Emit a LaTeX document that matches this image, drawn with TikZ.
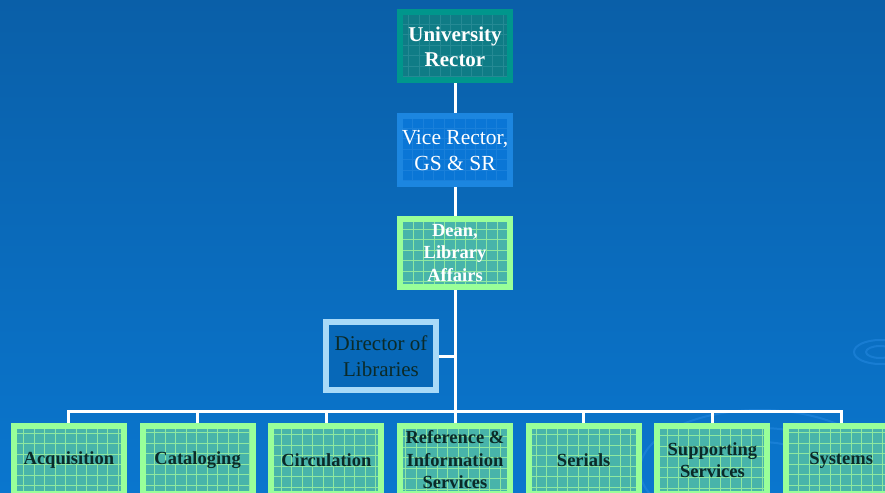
\documentclass[tikz,border=0pt]{standalone}
\usepackage{fontspec}
\setmainfont{Liberation Serif}
\usepackage{tikz}
\usetikzlibrary{positioning}
\definecolor{bgtop}{HTML}{0A5FA8}
\definecolor{bgbot}{HTML}{0A76CE}
\definecolor{ripplecol}{HTML}{2A8EE6}
\definecolor{tealedge}{HTML}{00968C}
\definecolor{tealfill}{HTML}{0F7C86}
\definecolor{tealgrid}{HTML}{258A94}
\definecolor{blueedge}{HTML}{1C86E0}
\definecolor{bluefill}{HTML}{0A76D6}
\definecolor{bluegrid}{HTML}{1A80DA}
\definecolor{greenedge}{HTML}{99FF99}
\definecolor{greenfill}{HTML}{48B4AA}
\definecolor{greengrid}{HTML}{8EE8A0}
\definecolor{skyedge}{HTML}{A8DAF8}
\definecolor{skyfill}{HTML}{0768B8}
\definecolor{darktext}{HTML}{0B2A28}
\pgfdeclarelayer{back}
\pgfdeclarelayer{links}
\pgfsetlayers{back,links,main}
\tikzstyle{unit}=[rectangle,minimum width=110pt,minimum height=68pt,line width=6pt,align=center,inner sep=0pt]
\tikzstyle{rector box}=[unit,draw=tealedge,fill=tealfill,text=white,font=\fontsize{21}{25}\selectfont\bfseries,
  path picture={\draw[tealgrid,line width=0.6pt,step=10.5pt] (path picture bounding box.south west) grid (path picture bounding box.north east);}]
\tikzstyle{vice box}=[unit,draw=blueedge,fill=bluefill,text=white,font=\fontsize{21.5}{26}\selectfont,
  path picture={\draw[bluegrid,line width=0.5pt,step=10.5pt] (path picture bounding box.south west) grid (path picture bounding box.north east);}]
\tikzstyle{green box}=[unit,draw=greenedge,fill=greenfill,font=\fontsize{18.5}{22.5}\selectfont\bfseries,
  path picture={\draw[greengrid,line width=0.8pt,step=10.5pt] (path picture bounding box.south west) grid (path picture bounding box.north east);}]
\tikzstyle{director box}=[unit,draw=skyedge,fill=skyfill,text=darktext,font=\fontsize{21}{26}\selectfont]
\tikzstyle{link}=[draw,white,line width=3pt]
\tikzstyle{ripple}=[ripplecol,line width=2pt,opacity=0.45]

\begin{document}
\begin{tikzpicture}[x=1pt,y=-1pt]
    \useasboundingbox (0,0) rectangle (885,492);
    \begin{pgfonlayer}{back}
    \shade[top color=bgtop,bottom color=bgbot] (0,0) rectangle (885,492);
    % ripples
    \draw[ripple] (880,352) ellipse (26 and 12);
    \draw[ripple] (880,352) ellipse (14 and 6);
    \draw[ripple] (760,470) ellipse (120 and 60);
    \draw[ripple] (760,470) ellipse (90 and 42);
    \draw[ripple] (760,470) ellipse (60 and 28);
    \end{pgfonlayer}

    \node[rector box] (rector) at (455,46.5) {University\\Rector};
    \node[vice box] (vice) at (455,150) {Vice Rector,\\GS \& SR};
    \node[green box,text=white] (dean) at (455,253) {Dean,\\Library\\Affairs};
    \node[director box] (director) at (381,356) {Director of\\Libraries};
    \foreach \k/\name/\label in {-3/acq/Acquisition, -2/cat/Cataloging, -1/circ/Circulation,
        0/ref/Reference \&\\Information\\Services, 1/ser/Serials, 2/sup/Supporting\\Services, 3/sys/Systems}
        \node[green box,text=darktext] (\name) at (455+128.7*\k,460) {\label};

    \coordinate (bus) at (455,411);
    \begin{pgfonlayer}{links}
    \path[link] (rector) -- (vice);
    \path[link] (vice) -- (dean);
    \path[link] (dean) -- (bus);
    \path[link] (director.east) -- (director.east -| dean);
    \foreach \name in {acq,cat,circ,ref,ser,sup,sys}
        \path[link] (\name.north) |- (bus);
    \end{pgfonlayer}
\end{tikzpicture}
\end{document}
